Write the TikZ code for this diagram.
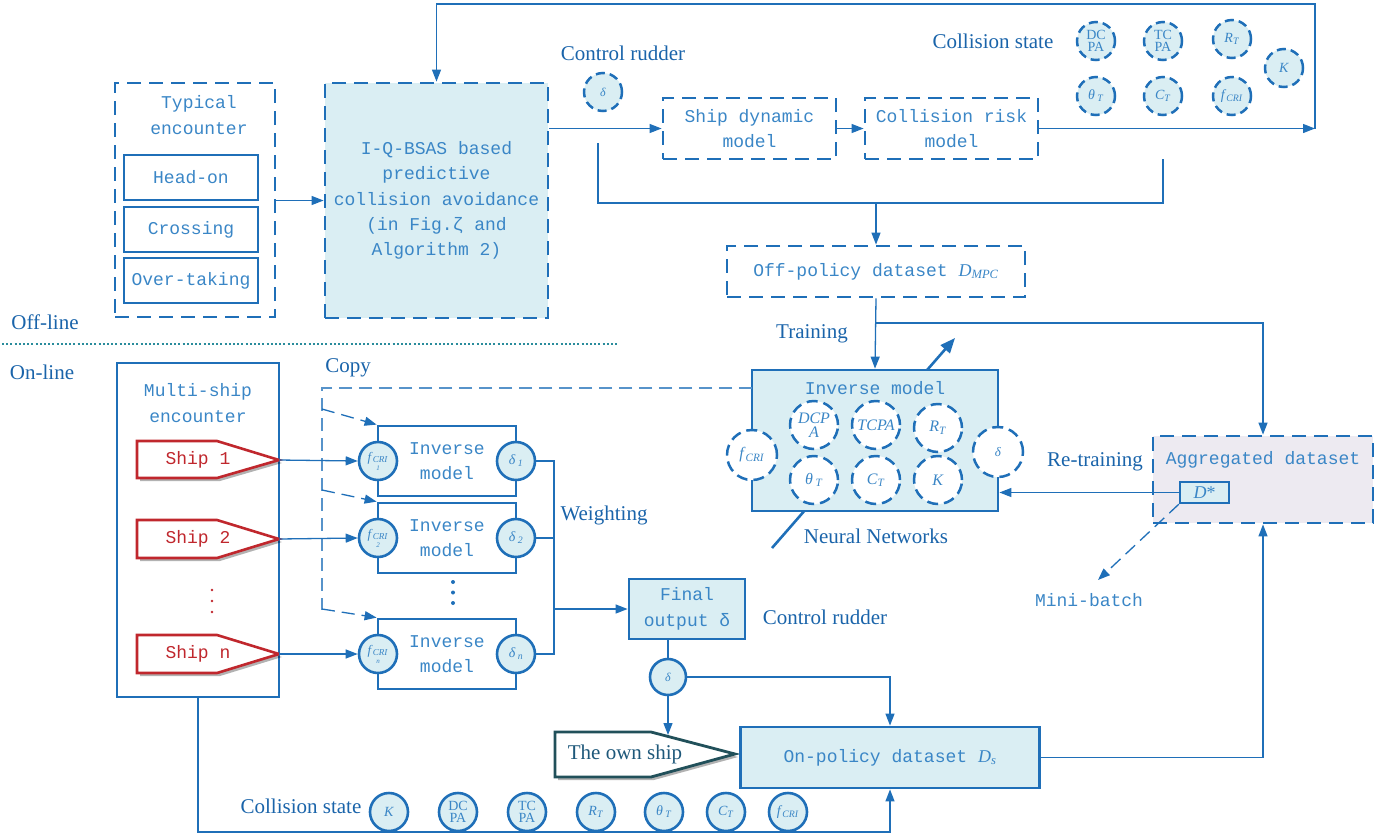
\documentclass[tikz,border=0pt]{standalone}
\usepackage{fontspec}
\setmainfont{Liberation Serif}
\setmonofont{Liberation Mono}
\usetikzlibrary{arrows.meta,shadows,calc}
\definecolor{lb}{HTML}{1F6FB8}
\definecolor{tb}{HTML}{3A86C6}
\definecolor{lab}{HTML}{1A64AA}
\definecolor{fillb}{HTML}{DAEEF3}
\definecolor{fillp}{HTML}{EDEAF1}
\definecolor{shipred}{HTML}{C0272D}
\definecolor{ownteal}{HTML}{21505A}
\definecolor{dotc}{HTML}{2A8C9C}
\newcommand\mysub[2]{\textit{#1}\textsubscript{\textit{#2}}}
\begin{document}
\begin{tikzpicture}[x=1pt,y=-1pt,
 dbox/.style={rectangle, draw=lb, line width=2.8pt, dash pattern=on 14pt off 8pt, inner sep=0pt, text=tb, font=\ttfamily\fontsize{18}{25.4}\selectfont, align=center},
 sbox/.style={rectangle, draw=lb, line width=2.8pt, inner sep=0pt, text=tb, font=\ttfamily\fontsize{18}{25.4}\selectfont, align=center},
 lbl/.style={text=lab, font=\fontsize{21}{24}\selectfont, inner sep=0pt},
 mlbl/.style={text=tb, font=\ttfamily\fontsize{18}{25.4}\selectfont, align=center, inner sep=0pt},
 dcirc/.style={circle, draw=lb, line width=2.5pt, dash pattern=on 9pt off 5pt, fill=fillb, minimum size=38pt, inner sep=0pt, text=tb, font=\fontsize{14}{13}\selectfont, align=center},
 scirc/.style={circle, draw=lb, line width=2.6pt, fill=fillb, minimum size=38pt, inner sep=0pt, text=tb, font=\fontsize{14}{13}\selectfont, align=center},
 wcirc/.style={dcirc, fill=white, minimum size=48pt, dash pattern=on 11pt off 6pt, font=\fontsize{16}{15}\selectfont},
 line/.style={draw=lb, line width=1.3pt},
 conn/.style={line, -{Triangle[length=12pt,width=9pt]}},
 cdash/.style={draw=lb!75, line width=1.3pt, dash pattern=on 13pt off 7pt},
 ship/.style={draw=shipred, line width=2.6pt, fill=white, drop shadow={shadow xshift=3pt, shadow yshift=-3pt, opacity=0.3, fill=black}},
 own/.style={draw=ownteal, line width=2.8pt, fill=white, drop shadow={shadow xshift=3pt, shadow yshift=-3pt, opacity=0.3, fill=black}},
]
\useasboundingbox (0,0) rectangle (1395,839);

% ---------------- Off-line part ----------------
\node[dbox, minimum width=160pt, minimum height=234pt] (typ) at (195,200) {};
\node[mlbl] (typt) at (199,115) {Typical\\encounter};
\node[sbox, minimum width=134pt, minimum height=45pt] (head) at (191,177.5) {Head-on};
\node[sbox, minimum width=134pt, minimum height=45pt] (cross) at (191,229.5) {Crossing};
\node[sbox, minimum width=134pt, minimum height=45pt] (over) at (191,280.5) {Over-taking};

\node[dbox, fill=fillb, minimum width=223pt, minimum height=235pt] (iq) at (436.5,200.5) {I-Q-BSAS based\\predictive\\collision avoidance\\(in Fig.ζ and\\Algorithm 2)};
\draw[conn] (typ.east |- iq.center) -- (iq.west);

\node[lbl] (cr1) at (623,53) {Control rudder};
\node[dcirc, font=\fontsize{12}{12}\selectfont] (dtop) at (603,92) {\textit{δ}};

\node[dbox, minimum width=173pt, minimum height=61pt] (sdm) at (749.5,128.5) {Ship dynamic\\model};
\node[dbox, minimum width=173pt, minimum height=61pt] (crm) at (951.5,128.5) {Collision risk\\model};
\draw[conn] (iq.east |- sdm.west) -- (sdm.west);
\draw[conn] (sdm.east) -- (crm.west);

\node[lbl] (cs1) at (993,41) {Collision state};
\node[dcirc] (c1) at (1096,41) {DC\\[-1pt]PA};
\node[dcirc] (c2) at (1163,41) {TC\\[-1pt]PA};
\node[dcirc] (c3) at (1232,39) {\mysub{R}{T}};
\node[dcirc] (c4) at (1284,68) {\textit{K}};
\node[dcirc] (c5) at (1096,96) {\textit{θ}\,\textsubscript{\textit{T}}};
\node[dcirc] (c6) at (1163,96) {\mysub{C}{T}};
\node[dcirc] (c7) at (1232,96) {\mysub{f}{CRI}};

\coordinate (tr) at (1315,128.5);
\coordinate (trtop) at (1315,4);
\draw[conn] (crm.east) -- (tr);
\draw[conn] (tr) -- (trtop) -| (iq.north);

\node[dbox, minimum width=298pt, minimum height=51pt] (off) at (876,271.5) {Off-policy dataset {\rmfamily\mysub{D}{MPC}}};
\coordinate (a1) at (598,143);
\coordinate (a2) at (598,203);
\coordinate (a3) at (1163,203);
\coordinate (a4) at (1163,159);
\coordinate (jn) at (876,203);
\draw[line] (a1) -- (a2) -- (a3) -- (a4);
\draw[conn] (jn) -- (off.north);

\node[lbl] (offl) at (45,322) {Off-line};
\node[lbl] (onl) at (42,372) {On-line};
\coordinate (dv1) at (2,344);
\coordinate (dv2) at (618,344);
\draw[dotc, line width=2pt, dash pattern=on 2pt off 2.2pt] (dv1) -- (dv2);

% ---------------- Inverse model (NN) ----------------
\coordinate (ta) at (772,548);
\coordinate (tb2) at (955,338);
\draw[lb, line width=2.6pt, -{Triangle[length=15pt,width=12pt]}] (ta) -- (tb2);
\node[sbox, fill=fillb, minimum width=246pt, minimum height=141pt] (inv) at (875,440.5) {};
\node[mlbl] (invt) at (875,388) {Inverse model};
\node[wcirc] (n1) at (814,425) {\textit{DCP}\\[-1pt]\textit{A}};
\node[wcirc] (n2) at (876,425) {\textit{TCPA}};
\node[wcirc] (n3) at (938,428) {\mysub{R}{T}};
\node[wcirc] (n4) at (814,480) {\textit{θ}\,\textsubscript{\textit{T}}};
\node[wcirc] (n5) at (876,480) {\mysub{C}{T}};
\node[wcirc] (n6) at (938,480) {\textit{K}};
\node[wcirc, minimum size=50pt] (nf) at (752,455) {\mysub{f}{CRI}};
\node[wcirc, minimum size=50pt, font=\fontsize{13}{13}\selectfont] (nd) at (998,452) {\textit{δ}};
\node[lbl] (trn) at (812,334) {Training};
\node[lbl] (nn) at (876,536) {Neural Networks};
\draw[conn] (off.south) -- (inv.north);
\coordinate (br) at (876,323);

% ---------------- Aggregated dataset ----------------
\node[dbox, fill=fillp, minimum width=220pt, minimum height=87pt] (agg) at (1263,479.5) {};
\node[mlbl] (aggt) at (1263,460) {Aggregated dataset};
\node[rectangle, draw=lb, line width=2.4pt, fill=fillb, minimum width=49pt, minimum height=21pt, inner sep=0pt, text=tb, font=\fontsize{18}{18}\selectfont] (ds) at (1204.5,492.5) {\textit{D}*};
\draw[conn] (br) -| (agg.north);
\draw[conn] (ds.west) -- (ds.west -| inv.east);
\node[lbl] (rtr) at (1095,462) {Re-training};
\coordinate (mb) at (1098,580);
\draw[cdash, draw=lb, -{Triangle[length=12pt,width=9pt]}] (ds.south west) -- (mb);
\node[mlbl] (mbt) at (1089,600) {Mini-batch};

% ---------------- On-line part ----------------
\node[sbox, minimum width=162pt, minimum height=334pt] (ms) at (198,530) {};
\node[mlbl] (mst) at (198,403) {Multi-ship\\encounter};

\draw[ship] (137,441) -- (217,441) -- (279,460) -- (217,478) -- (137,478) -- cycle;
\draw[ship] (137,520) -- (217,520) -- (279,539) -- (217,558) -- (137,558) -- cycle;
\draw[ship] (137,635) -- (217,635) -- (279,654) -- (217,673) -- (137,673) -- cycle;
\node[mlbl, text=shipred] (sh1) at (198,460) {Ship 1};
\node[mlbl, text=shipred] (sh2) at (198,539) {Ship 2};
\node[mlbl, text=shipred] (shn) at (198,654) {Ship n};
\coordinate (s1) at (279,460);
\coordinate (s2) at (279,539);
\coordinate (sn) at (279,654);
\fill[shipred] (212,590) circle (1.3) (212,601) circle (1.3) (212,612) circle (1.3);

\node[lbl] (copy) at (348,368) {Copy};
\coordinate (cp0) at (752,388);
\coordinate (cp1) at (322,388);
\coordinate (cp2) at (322,610);
\draw[cdash] (cp0) -- (cp1) -- (cp2);

\foreach \i/\y in {1/461,2/538,3/654}{
  \node[sbox, minimum width=138pt, minimum height=70pt] (im\i) at (447,\y) {Inverse\\model};
}
\node[scirc, font=\fontsize{13}{10}\selectfont] (f1) at (378,461) {\mysub{f}{CRI}\\[-1pt]{\fontsize{7}{7}\selectfont\itshape 1}};
\node[scirc, font=\fontsize{13}{10}\selectfont] (f2) at (378,538) {\mysub{f}{CRI}\\[-1pt]{\fontsize{7}{7}\selectfont\itshape 2}};
\node[scirc, font=\fontsize{13}{10}\selectfont] (f3) at (378,654) {\mysub{f}{CRI}\\[-1pt]{\fontsize{7}{7}\selectfont\itshape n}};
\node[scirc] (d1) at (516,461) {\textit{δ}\,\textsubscript{\textit{1}}};
\node[scirc] (d2) at (516,538) {\textit{δ}\,\textsubscript{\textit{2}}};
\node[scirc] (d3) at (516,654) {\textit{δ}\,\textsubscript{\textit{n}}};
\fill[lb] (453,582) circle (2) (453,592.5) circle (2) (453,603) circle (2);

\coordinate (k1) at (322,409);
\coordinate (k2) at (322,490);
\coordinate (k3) at (322,609);
\draw[cdash, draw=lb, -{Triangle[length=12pt,width=9pt]}] (k1) -- (im1.north west);
\draw[cdash, draw=lb, -{Triangle[length=12pt,width=9pt]}] (k2) -- (im2.north west);
\draw[cdash, draw=lb, -{Triangle[length=12pt,width=9pt]}] (k3) -- (im3.north west);

\draw[conn] (s1) -- (f1.west);
\draw[conn] (s2) -- (f2.west);
\draw[conn] (sn) -- (f3.west);

\node[sbox, fill=fillb, minimum width=116pt, minimum height=60pt] (fin) at (687,609) {Final\\output δ};
\coordinate (w1) at (554,461);
\coordinate (w3) at (554,654);
\draw[line] (d1.east) -- (w1) -- (w3) -- (d3.east);
\draw[line] (d2.east) -- (d2.east -| w1);
\draw[conn] (w1 |- fin.west) -- (fin.west);
\node[lbl] (wt) at (604,515) {Weighting};
\node[lbl] (cr2) at (825,617) {Control rudder};

\node[scirc, minimum size=36pt, font=\fontsize{12}{12}\selectfont] (dc) at (668,677) {\textit{δ}};
\draw[line] (fin.south -| dc.north) -- (dc.north);

\draw[own] (555,732) -- (651,732) -- (735,754) -- (651,777) -- (555,777) -- cycle;
\node[lbl, text=ownteal!60!lab] (ownt) at (625,754) {The own ship};
\coordinate (ownin) at (668,735);
\draw[conn] (dc.south) -- (ownin);

\node[sbox, fill=fillb, minimum width=299pt, minimum height=61pt] (onp) at (890,757.5) {On-policy dataset {\rmfamily\mysub{D}{s}}};
\draw[conn] (dc.east) -| (onp.north);
\draw[conn] (onp.east) -| (agg.south);

\node[lbl] (cs2) at (301,806) {Collision state};
\node[scirc] (b1) at (389,812) {\textit{K}};
\node[scirc] (b2) at (458,812) {DC\\[-1pt]PA};
\node[scirc] (b3) at (527,812) {TC\\[-1pt]PA};
\node[scirc] (b4) at (596,812) {\mysub{R}{T}};
\node[scirc] (b5) at (664,812) {\textit{θ}\,\textsubscript{\textit{T}}};
\node[scirc] (b6) at (726,812) {\mysub{C}{T}};
\node[scirc] (b7) at (788,812) {\mysub{f}{CRI}};
\coordinate (bot) at (196,832);
\draw[conn] (ms.south) -- (ms.south |- bot) -| (onp.south);
\end{tikzpicture}
\end{document}
